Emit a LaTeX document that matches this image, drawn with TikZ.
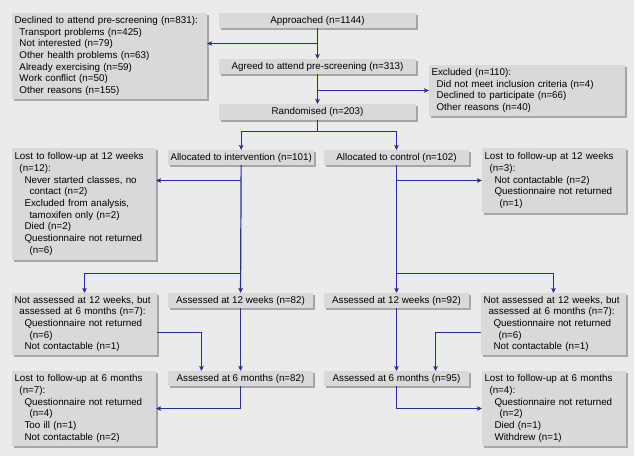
\documentclass[tikz,border=0pt]{standalone}
\usepackage{fontspec}
\setmainfont{Liberation Sans}
\usetikzlibrary{arrows.meta, positioning, calc, shadows}
\definecolor{bggray}{HTML}{EBEBEB}
\definecolor{boxgray}{HTML}{D9D9D9}
\definecolor{shadowgray}{HTML}{A6A6A6}
\definecolor{flowblue}{HTML}{2B2BA0}

\begin{document}
\begin{tikzpicture}[
  x=1pt, y=-1pt,
  box/.style={fill=boxgray, anchor=north west, inner xsep=2.5pt, inner ysep=1pt, outer sep=0pt,
    font=\fontsize{9.8}{11.7}\selectfont,
    drop shadow={shadow xshift=2pt, shadow yshift=-2pt, fill=shadowgray, opacity=1}},
  single/.style={box, align=center, minimum height=15pt},
  multi/.style={box, align=left},
  arrow/.style={-{Stealth[length=5pt, width=4.5pt, inset=1pt]}, flowblue, line width=1.2pt},
  line/.style={flowblue, line width=1.2pt}
]

% Background
\fill[bggray] (0,0) rectangle (634,456);
\useasboundingbox (0,0) rectangle (636,458);

% Enrolment
\node[multi, text width=190pt, minimum height=86pt] (declined) at (12,13) {Declined to attend pre-screening (n=831):\\
\hspace*{5pt}Transport problems (n=425)\\
\hspace*{5pt}Not interested (n=79)\\
\hspace*{5pt}Other health problems (n=63)\\
\hspace*{5pt}Already exercising (n=59)\\
\hspace*{5pt}Work conflict (n=50)\\
\hspace*{5pt}Other reasons (n=155)};
\node[single, minimum width=197pt] (approached) at (219,13) {Approached (n=1144)};
\node[single, minimum width=197pt] (agreed) at (219,59) {Agreed to attend pre-screening (n=313)};
\node[multi, text width=191pt, minimum height=51pt] (excluded) at (429,65) {Excluded (n=110):\\
\hspace*{5pt}Did not meet inclusion criteria (n=4)\\
\hspace*{5pt}Declined to participate (n=66)\\
\hspace*{5pt}Other reasons (n=40)};
\node[single, minimum width=197pt, minimum height=16pt] (randomised) at (219,104) {Randomised (n=203)};

% Allocation
\node[single, minimum width=145pt] (allocint) at (168,150) {Allocated to intervention (n=101)};
\node[single, minimum width=145pt] (allocctl) at (324,150) {Allocated to control (n=102)};
\node[multi, text width=139pt, minimum height=112pt] (lost12int) at (12,148) {Lost to follow-up at 12 weeks\\
\hspace*{5pt}(n=12):\\
\hspace*{10pt}Never started classes, no\\
\hspace*{15pt}contact (n=2)\\
\hspace*{10pt}Excluded from analysis,\\
\hspace*{15pt}tamoxifen only (n=2)\\
\hspace*{10pt}Died (n=2)\\
\hspace*{10pt}Questionnaire not returned\\
\hspace*{15pt}(n=6)};
\node[multi, text width=139pt, minimum height=65pt] (lost12ctl) at (482,148) {Lost to follow-up at 12 weeks\\
\hspace*{5pt}(n=3):\\
\hspace*{10pt}Not contactable (n=2)\\
\hspace*{10pt}Questionnaire not returned\\
\hspace*{15pt}(n=1)};

% 12 weeks
\node[multi, text width=140pt, minimum height=62pt] (notassint) at (12,293) {Not assessed at 12 weeks, but\\
\hspace*{5pt}assessed at 6 months (n=7):\\
\hspace*{10pt}Questionnaire not returned\\
\hspace*{15pt}(n=6)\\
\hspace*{10pt}Not contactable (n=1)};
\node[single, minimum width=145pt] (ass12int) at (168,293) {Assessed at 12 weeks (n=82)};
\node[single, minimum width=145pt] (ass12ctl) at (324,293) {Assessed at 12 weeks (n=92)};
\node[multi, text width=140pt, minimum height=62pt] (notassctl) at (481,293) {Not assessed at 12 weeks, but\\
\hspace*{5pt}assessed at 6 months (n=7):\\
\hspace*{10pt}Questionnaire not returned\\
\hspace*{15pt}(n=6)\\
\hspace*{10pt}Not contactable (n=1)};

% 6 months
\node[single, minimum width=145pt] (ass6int) at (168,371) {Assessed at 6 months (n=82)};
\node[single, minimum width=145pt] (ass6ctl) at (324,371) {Assessed at 6 months (n=95)};
\node[multi, text width=139pt, minimum height=75pt] (lost6int) at (12,371) {Lost to follow-up at 6 months\\
\hspace*{5pt}(n=7):\\
\hspace*{10pt}Questionnaire not returned\\
\hspace*{15pt}(n=4)\\
\hspace*{10pt}Too ill (n=1)\\
\hspace*{10pt}Not contactable (n=2)};
\node[multi, text width=139pt, minimum height=75pt] (lost6ctl) at (482,371) {Lost to follow-up at 6 months\\
\hspace*{5pt}(n=4):\\
\hspace*{10pt}Questionnaire not returned\\
\hspace*{15pt}(n=2)\\
\hspace*{10pt}Died (n=1)\\
\hspace*{10pt}Withdrew (n=1)};

% Connectors: enrolment
\coordinate (declsplit) at ($(approached.south)+(0,15.5)$);
\coordinate (exclsplit) at ($(agreed.south)+(0,16.5)$);
\coordinate (allocsplit) at ($(randomised.south)+(0,11.5)$);
\draw[arrow] (approached) -- (agreed);
\draw[arrow] (declsplit) -- (declsplit -| declined.east);
\draw[arrow] (agreed) -- (randomised);
\draw[arrow] (exclsplit) -- (exclsplit -| excluded.west);
\draw[line] (randomised.south) -- (allocsplit);
\draw[arrow] (allocsplit) -| (allocint.north);
\draw[arrow] (allocsplit) -| (allocctl.north);

% Connectors: intervention arm
\coordinate (lostsplitint) at ($(allocint.south)+(0,15.5)$);
\coordinate (notsplitint) at ($(ass12int.north)+(0,-19.5)$);
\coordinate (notoutint) at ($(notassint.north east)+(0,39.5)$);
\coordinate (notinint) at ($(ass6int.north west)+(33.5,0)$);
\draw[arrow] (allocint) -- (ass12int);
\draw[arrow] (lostsplitint) -- (lostsplitint -| lost12int.east);
\draw[arrow] (notsplitint) -| (notassint.north);
\draw[arrow] (ass12int) -- (ass6int);
\draw[arrow] (notoutint) -| (notinint);
\draw[arrow] (ass6int.south) |- (lost6int.east);

% Connectors: control arm
\coordinate (notsplitctl) at ($(ass12ctl.north)+(0,-19.5)$);
\coordinate (notoutctl) at ($(notassctl.north west)+(0,39.5)$);
\coordinate (notinctl) at ($(ass6ctl.north west)+(111.5,0)$);
\draw[arrow] (allocctl) -- (ass12ctl);
\draw[arrow] (allocctl.south |- lost12ctl.west) -- (lost12ctl.west);
\draw[arrow] (notsplitctl) -| (notassctl.north);
\draw[arrow] (ass12ctl) -- (ass6ctl);
\draw[arrow] (notoutctl) -| (notinctl);
\draw[arrow] (ass6ctl.south) |- (lost6ctl.west);

\end{tikzpicture}
\end{document}
